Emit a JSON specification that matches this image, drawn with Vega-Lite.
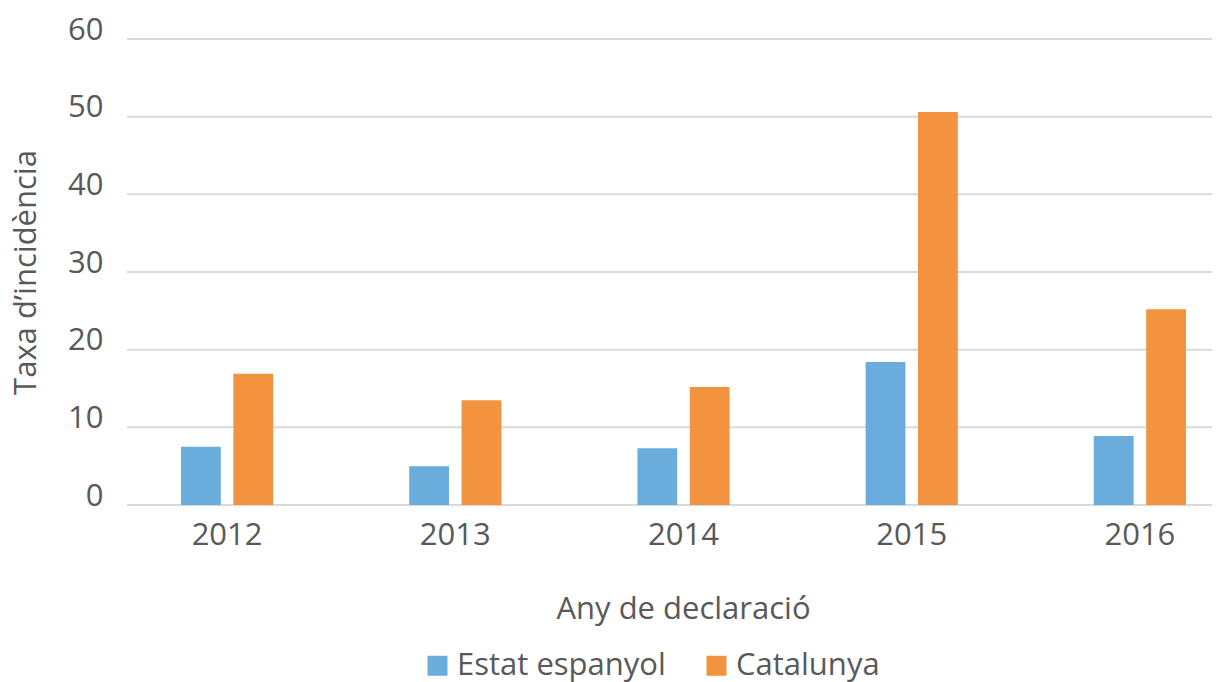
{
  "$schema": "https://vega.github.io/schema/vega-lite/v6.json",
  "autosize": "none",
  "padding": {"left": 127, "top": 39, "right": 5, "bottom": 177},
  "width": 1085,
  "height": 466,
  "config": {
    "font": "Open Sans",
    "view": {"stroke": null},
    "axis": {"labelColor": "#595959", "titleColor": "#595959", "labelFont": "Open Sans", "titleFont": "Open Sans"}
  },
  "layer": [
    {
      "data": {"values": [{"v": 0}, {"v": 10}, {"v": 20}, {"v": 30}, {"v": 40}, {"v": 50}, {"v": 60}]},
      "mark": {"type": "rule", "color": "#d9d9d9", "strokeWidth": 2},
      "encoding": {
        "y": {"field": "v", "type": "quantitative"}
      }
    },
    {
      "data": {
        "values": [
          {"any": "2012", "serie": "Estat espanyol", "taxa": 7.5},
          {"any": "2012", "serie": "Catalunya", "taxa": 16.9},
          {"any": "2013", "serie": "Estat espanyol", "taxa": 5.0},
          {"any": "2013", "serie": "Catalunya", "taxa": 13.5},
          {"any": "2014", "serie": "Estat espanyol", "taxa": 7.3},
          {"any": "2014", "serie": "Catalunya", "taxa": 15.2},
          {"any": "2015", "serie": "Estat espanyol", "taxa": 18.4},
          {"any": "2015", "serie": "Catalunya", "taxa": 50.6},
          {"any": "2016", "serie": "Estat espanyol", "taxa": 8.9},
          {"any": "2016", "serie": "Catalunya", "taxa": 25.2}
        ]
      },
      "mark": {"type": "bar"},
      "encoding": {
        "x": {
          "field": "any", "type": "nominal",
          "scale": {"range": [-14, 1127], "paddingInner": 0.596, "paddingOuter": 0.298},
          "axis": {
            "title": "Any de declaració", "titleFontSize": 31, "titleFontWeight": "normal", "titlePadding": 44,
            "titleX": 556,
            "labelFontSize": 31, "labelAngle": 0, "labelPadding": 15,
            "ticks": false, "domain": false
          }
        },
        "xOffset": {
          "field": "serie", "type": "nominal",
          "sort": ["Estat espanyol", "Catalunya"],
          "scale": {"paddingInner": 0.24, "paddingOuter": 0}
        },
        "y": {
          "field": "taxa", "type": "quantitative",
          "scale": {"domain": [0, 60], "nice": false},
          "axis": {
            "title": "Taxa d’incidència", "titleFontSize": 31, "titleFontWeight": "normal", "titlePadding": 25,
            "labelFontSize": 31, "labelPadding": 24, "labelBaseline": "alphabetic",
            "values": [0, 10, 20, 30, 40, 50, 60],
            "ticks": false, "domain": false, "grid": false
          }
        },
        "color": {
          "field": "serie", "type": "nominal",
          "sort": ["Estat espanyol", "Catalunya"],
          "scale": {"domain": ["Estat espanyol", "Catalunya"], "range": ["#6aacdc", "#f3923f"]},
          "legend": {
            "title": null, "orient": "none", "direction": "horizontal",
            "legendX": 295, "legendY": 611,
            "symbolType": "square", "symbolSize": 400, "symbolStrokeWidth": 0,
            "labelFontSize": 31, "labelColor": "#595959", "labelFont": "Open Sans", "labelLimit": 400,
            "columnPadding": 35, "symbolOffset": 0, "labelOffset": 4
          }
        }
      }
    }
  ]
}
